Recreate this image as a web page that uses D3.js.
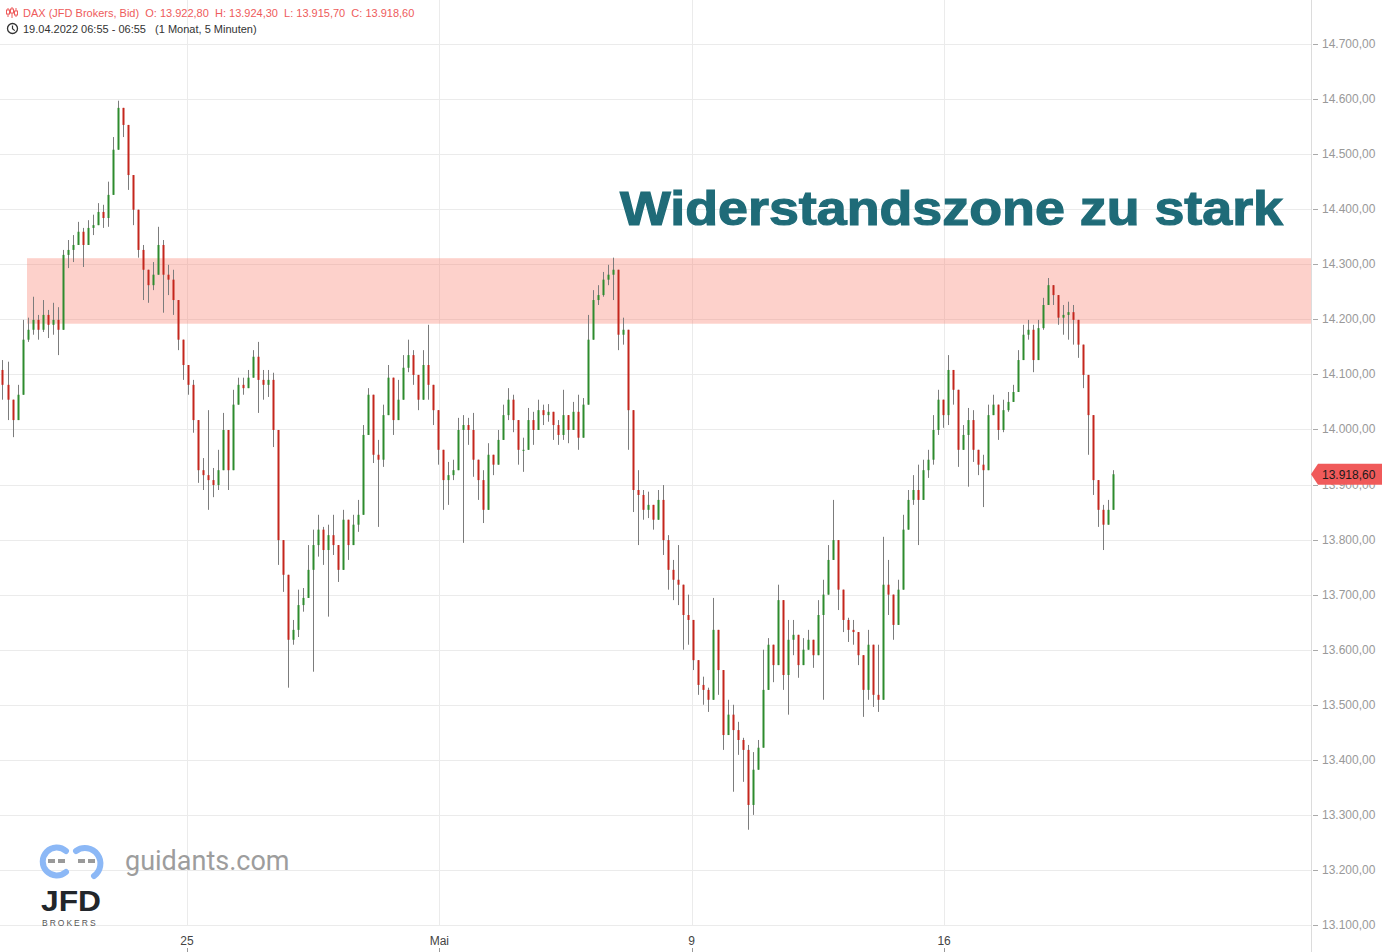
<!DOCTYPE html>
<html><head><meta charset="utf-8">
<script src="https://cdn.jsdelivr.net/npm/d3@7"></script>
<style>html,body{margin:0;padding:0;background:#fff;overflow:hidden}</style>
</head><body><svg id="c" width="1382" height="952"></svg>
<script>
// ---------- data ----------
const firstOpen = 14108;
const closes = [
14081,14054,14017,14063,14163,14181,14199,14181,14208,14190,
14199,14181,14317,14326,14335,14359,14335,14366,14371,14395,
14384,14426,14508,14584,14553,14462,14399,14326,14290,14262,
14281,14335,14281,14272,14235,14163,14117,14081,14017,13926,
13917,13908,13899,13926,13999,13926,14045,14081,14075,14094,
14132,14090,14081,14090,13999,13799,13736,13618,13636,13681,
13694,13745,13790,13818,13781,13808,13790,13745,13836,13790,
13827,13845,13990,14063,13954,13945,14026,14094,14017,14054,
14112,14135,14099,14054,14117,14081,14035,13963,13908,13917,
13926,13999,14008,13999,13945,13908,13854,13954,13936,13981,
14026,14054,14017,13963,13963,14017,13999,14035,14026,14032,
14008,13990,14026,13999,14032,13985,14045,14163,14235,14244,
14272,14281,14290,14172,14181,14035,13890,13881,13854,13863,
13836,13872,13799,13745,13727,13718,13663,13654,13581,13536,
13527,13509,13636,13563,13445,13482,13454,13436,13418,13318,
13382,13422,13527,13609,13572,13690,13554,13618,13627,13572,
13600,13618,13590,13663,13700,13763,13799,13709,13654,13636,
13632,13590,13527,13609,13518,13509,13718,13700,13645,13709,
13818,13872,13890,13872,13926,13945,13999,14054,14026,14108,
14072,13963,13990,14017,13963,13936,13926,14026,14045,13999,
14035,14050,14068,14126,14172,14181,14126,14184,14226,14262,
14244,14203,14208,14213,14199,14154,14099,14026,13908,13854,
13827,13854,13918.6];
const highs = [
14126,14123,14045,14081,14199,14203,14241,14208,14235,14217,
14230,14222,14326,14344,14353,14377,14366,14380,14390,14411,
14408,14450,14531,14597,14584,14544,14426,14353,14335,14290,
14304,14368,14344,14299,14290,14203,14154,14108,14090,13963,
13948,14035,13930,13963,14030,13981,14072,14094,14094,14108,
14144,14159,14108,14108,14103,13848,13772,13672,13654,13709,
13712,13790,13818,13845,13823,13827,13845,13763,13854,13818,
13845,13872,14008,14075,14035,13981,14045,14117,14090,14090,
14135,14163,14144,14081,14144,14190,14063,14017,13945,13941,
13945,14021,14026,14021,14030,13941,13926,13975,13954,13999,
14045,14075,14063,13990,13985,14039,14032,14054,14045,14046,
14032,14017,14072,14026,14050,14063,14057,14208,14253,14262,
14286,14299,14312,14235,14203,14126,13936,13926,13890,13887,
13863,13890,13899,13808,13763,13790,13709,13700,13609,13560,
13551,13531,13694,13600,13476,13509,13500,13469,13440,13427,
13414,13436,13600,13621,13609,13718,13654,13654,13654,13600,
13621,13636,13612,13690,13727,13790,13872,13781,13676,13658,
13654,13618,13572,13636,13554,13609,13805,13763,13672,13727,
13845,13890,13917,13936,13945,13963,14026,14072,14054,14135,
14099,14026,14008,14039,14035,13963,13954,14045,14063,14021,
14054,14068,14081,14144,14190,14199,14190,14199,14239,14275,
14262,14226,14226,14232,14226,14172,14117,14066,13936,13876,
13863,13872,13926];
const lows = [
14054,14017,13986,14035,14135,14159,14172,14163,14177,14166,
14172,14135,14199,14293,14304,14335,14295,14344,14353,14371,
14366,14368,14444,14553,14531,14435,14371,14312,14235,14230,
14253,14308,14212,14244,14208,14144,14090,14063,13994,13903,
13890,13854,13877,13890,13939,13890,13950,14063,14063,14081,
14117,14030,14054,14059,13968,13754,13705,13531,13609,13623,
13669,13709,13560,13769,13754,13660,13772,13723,13814,13763,
13808,13814,13896,13999,13939,13823,13932,14063,13990,14030,
14090,14104,14081,14035,14081,14054,14008,13936,13854,13863,
13908,13926,13794,13972,13914,13872,13830,13926,13917,13963,
14008,14017,13995,13936,13923,13972,13972,14008,14008,14014,
13981,13972,13981,13975,14008,13963,14017,14063,14213,14226,
14241,14262,14235,14144,14154,13963,13850,13790,13836,13839,
13818,13850,13772,13709,13690,13681,13600,13609,13563,13518,
13500,13487,13572,13518,13418,13454,13342,13409,13360,13273,
13300,13391,13436,13545,13541,13581,13527,13482,13590,13549,
13572,13600,13567,13636,13509,13727,13772,13672,13632,13614,
13609,13572,13478,13509,13496,13487,13581,13663,13618,13669,
13763,13854,13863,13790,13890,13912,13936,13990,14003,14008,
14045,13932,13963,13896,13941,13917,13859,13972,14026,13981,
13995,14032,14054,14086,14154,14163,14104,14163,14181,14248,
14226,14190,14172,14163,14154,14130,14075,13954,13881,13823,
13781,13836,13894];
const yTicks = [13100,13200,13300,13400,13500,13600,13700,13800,13900,14000,14100,14200,14300,14400,14500,14600,14700];
const dayTicks = [4, 9, 14, 19];           // trading-day index of the labelled days
const dayLabels = ["25", "Mai", "9", "16"];
const zoneRange = [14192, 14311];
const lastPrice = 13918.6;
const headerLine1 = "DAX (JFD Brokers, Bid)  O: 13.922,80  H: 13.924,30  L: 13.915,70  C: 13.918,60";
const headerLine2 = "19.04.2022 06:55 - 06:55   (1 Monat, 5 Minuten)";
const titleText = "Widerstandszone zu stark";

// ---------- layout ----------
const W = 1382, H = 952, plotR = 1311, plotB = 926;
const svg = d3.select("#c");
const de = d3.formatLocale({decimal: ",", thousands: ".", grouping: [3], currency: ["", "€"]});
const fmt = de.format(",.2f");
const FONT = "'Liberation Sans', Arial, sans-serif";

const y = d3.scaleLinear().domain([13100, 14700]).range([925, 44]);
const x = d3.scaleLinear().domain([0.295, 26.27]).range([0, plotR]);
const barDays = x.invert(5) - x.invert(0);
const firstBarDay = x.invert(2.5);

// grid
const g = svg.append("g");
g.selectAll("line.h").data(yTicks).join("line")
  .attr("x1", 0).attr("x2", plotR)
  .attr("y1", d => Math.round(y(d)) + 0.5).attr("y2", d => Math.round(y(d)) + 0.5)
  .attr("stroke", "#ebebeb").attr("stroke-width", 1);
g.selectAll("line.v").data(dayTicks).join("line")
  .attr("x1", d => Math.round(x(d)) + 0.5).attr("x2", d => Math.round(x(d)) + 0.5)
  .attr("y1", 0).attr("y2", plotB)
  .attr("stroke", "#ebebeb").attr("stroke-width", 1);

// resistance zone
svg.append("rect")
  .attr("x", 27).attr("width", plotR - 27)
  .attr("y", y(zoneRange[1])).attr("height", y(zoneRange[0]) - y(zoneRange[1]))
  .attr("fill", "#fa7f6e").attr("fill-opacity", 0.36);

// candles
const bars = closes.map((c, i) => ({
  t: firstBarDay + i * barDays,
  o: i ? closes[i - 1] : firstOpen,
  c, h: highs[i], l: lows[i]
}));
const cg = svg.append("g");
cg.selectAll("line").data(bars).join("line")
  .attr("x1", d => Math.round(x(d.t)) + 0.5).attr("x2", d => Math.round(x(d.t)) + 0.5)
  .attr("y1", d => y(Math.max(d.h, d.o, d.c))).attr("y2", d => y(Math.min(d.l, d.o, d.c)))
  .attr("stroke", "#7c7c7c").attr("stroke-width", 1);
cg.selectAll("rect").data(bars).join("rect")
  .attr("x", d => Math.round(x(d.t)) - 0.5).attr("width", 2)
  .attr("y", d => y(Math.max(d.o, d.c)))
  .attr("height", d => Math.max(1, Math.abs(y(d.o) - y(d.c))))
  .attr("fill", d => d.c >= d.o ? "#2e8b2e" : "#c4261d");

// title
svg.append("text").attr("x", 620).attr("y", 225)
  .attr("font-family", FONT).attr("font-weight", "bold").attr("font-size", 48)
  .attr("textLength", 663).attr("lengthAdjust", "spacingAndGlyphs")
  .attr("fill", "#1f6b78").attr("stroke", "#1f6b78").attr("stroke-width", 1.2)
  .text(titleText);

// right axis
svg.append("line").attr("x1", plotR + 0.5).attr("x2", plotR + 0.5).attr("y1", 0).attr("y2", H)
  .attr("stroke", "#dcdcdc");
const ra = svg.append("g");
ra.selectAll("line").data(yTicks).join("line")
  .attr("x1", plotR + 2).attr("x2", plotR + 7)
  .attr("y1", d => Math.round(y(d)) + 0.5).attr("y2", d => Math.round(y(d)) + 0.5)
  .attr("stroke", "#aaa");
ra.selectAll("text").data(yTicks).join("text")
  .attr("x", plotR + 11).attr("y", d => y(d) + 4)
  .attr("font-family", FONT).attr("font-size", 12).attr("fill", "#999")
  .text(d => fmt(d));

// bottom axis
const ba = svg.append("g");
ba.selectAll("text").data(dayTicks).join("text")
  .attr("x", d => x(d)).attr("y", 945).attr("text-anchor", "middle")
  .attr("font-family", FONT).attr("font-size", 12).attr("fill", "#444")
  .text((d, i) => dayLabels[i]);
ba.selectAll("line").data(dayTicks).join("line")
  .attr("x1", d => Math.round(x(d)) + 0.5).attr("x2", d => Math.round(x(d)) + 0.5)
  .attr("y1", 948).attr("y2", 952).attr("stroke", "#999");

// last price label
const ly = y(lastPrice);
svg.append("path")
  .attr("d", `M${plotR},${ly} L${plotR + 7},${ly - 10.5} L${W},${ly - 10.5} L${W},${ly + 10.5} L${plotR + 7},${ly + 10.5} Z`)
  .attr("fill", "#f05a5a");
svg.append("text").attr("x", plotR + 11).attr("y", ly + 4.5)
  .attr("font-family", FONT).attr("font-size", 12).attr("fill", "#1a1a1a")
  .text(fmt(lastPrice));

// header
const hd = svg.append("g");
[[8, 8, 17, 10, 14], [12, 7, 18, 9, 13], [16, 8, 17, 11, 15]].forEach(([cx, y1, y2, b1, b2]) => {
  hd.append("line").attr("x1", cx).attr("x2", cx).attr("y1", y1).attr("y2", y2).attr("stroke", "#ee5b5b").attr("stroke-width", 1);
  hd.append("rect").attr("x", cx - 1.5).attr("y", b1).attr("width", 3).attr("height", b2 - b1)
    .attr("fill", "#fff").attr("stroke", "#ee5b5b").attr("stroke-width", 1);
});
hd.append("text").attr("x", 23).attr("y", 17).attr("xml:space", "preserve")
  .style("white-space", "pre")
  .attr("font-family", FONT).attr("font-size", 11).attr("fill", "#ee5b5b").text(headerLine1);
hd.append("circle").attr("cx", 12.5).attr("cy", 28.5).attr("r", 5).attr("fill", "none").attr("stroke", "#333").attr("stroke-width", 1.3);
hd.append("path").attr("d", "M12.5,25.5 V28.8 L14.8,30.6").attr("fill", "none").attr("stroke", "#333").attr("stroke-width", 1.2);
hd.append("text").attr("x", 23).attr("y", 33).attr("xml:space", "preserve")
  .style("white-space", "pre")
  .attr("font-family", FONT).attr("font-size", 11).attr("fill", "#333").text(headerLine2);

// logo
const lg = svg.append("g");
lg.append("path").attr("d", "M66,851 A14,14 0 1 0 66,872").attr("fill", "none").attr("stroke", "#8cb8f6").attr("stroke-width", 6).attr("stroke-linecap", "round");
lg.append("path").attr("d", "M76,851 A14,14 0 1 1 94,876").attr("fill", "none").attr("stroke", "#8cb8f6").attr("stroke-width", 6).attr("stroke-linecap", "round");
[48, 58, 78, 88].forEach(px => lg.append("rect").attr("x", px).attr("y", 859).attr("width", 7).attr("height", 4).attr("fill", "#9a9a9a"));
lg.append("text").attr("x", 125).attr("y", 870).attr("font-family", "Roboto, 'Liberation Sans', sans-serif")
  .attr("font-size", 27).attr("fill", "#9d9d9d").text("guidants.com");
lg.append("text").attr("x", 41).attr("y", 911).attr("font-family", FONT).attr("font-weight", "bold")
  .attr("font-size", 30).attr("fill", "#22262b").attr("textLength", 60).attr("lengthAdjust", "spacingAndGlyphs").text("JFD");
lg.append("text").attr("x", 42).attr("y", 926).attr("font-family", FONT)
  .attr("font-size", 8.5).attr("fill", "#555").attr("letter-spacing", 2).text("BROKERS");
</script></body></html>
